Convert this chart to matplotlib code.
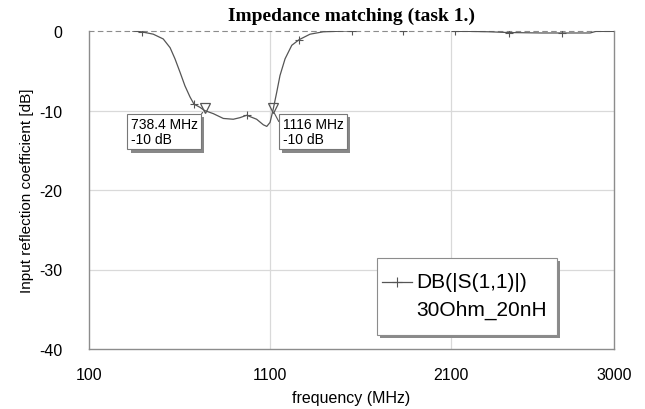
import numpy as np
import matplotlib
matplotlib.use("Agg")
import matplotlib.pyplot as plt
from matplotlib.patches import Rectangle
from matplotlib.lines import Line2D
import matplotlib.patheffects as pe

nan = np.nan
# Data (frequency in MHz, |S11| in dB); NaN = clipped at 0 dB
freq_mhz = [341, 391, 455, 510, 548, 575, 603, 630, 658, 680, 713, 738.4, 787, 842,
            897, 934, 971, 1026, 1063, 1082, 1100, 1116, 1137, 1155, 1183, 1220, 1260,
            1321, 1394, 1524, 1553, nan, 1835, nan, 2122, 2200, 2315, 2420, 2443, 2600,
            2713, 2868, 2900, 3000]
s11_db = [0.0, -0.1, -0.4, -1.0, -2.1, -3.5, -5.2, -6.9, -8.3, -9.2, -9.6, -10.0, -10.4,
          -11.0, -11.1, -10.9, -10.6, -11.1, -11.8, -12.0, -11.5, -10.0, -7.7, -5.6, -3.5,
          -1.8, -1.1, -0.4, -0.1, 0.0, 0.0, nan, 0.0, nan, -0.05, -0.05, -0.1, -0.2, -0.2,
          -0.25, -0.25, -0.25, -0.05, -0.05]
symbol_freqs = [391, 680, 971, 1260, 1553, 1835, 2122, 2420, 2713]

cursor_freqs = [738.4, 1116]
cursor_db = [-10, -10]

x_ticks = [100, 1100, 2100, 3000]
y_ticks = [0, -10, -20, -30, -40]

series_name = "DB(|S(1,1)|)"
series_sub = "30Ohm_20nH"
title = "Impedance matching (task 1.)"
xlabel = "frequency (MHz)"
ylabel = "Input reflection coefficient [dB]"

plt.rcParams['font.family'] = ['Liberation Sans', 'DejaVu Sans']

fig = plt.figure(figsize=(6.45, 4.10), dpi=100)
ax = fig.add_axes([89/645, 1-350/410, 525/645, 318/410])

ax.set_xlim(100, 3000)
ax.set_ylim(-40, 0)
ax.set_xticks(x_ticks)
ax.set_yticks(y_ticks)
ax.set_xticklabels([str(t) for t in x_ticks])
ax.set_yticklabels([str(t) for t in y_ticks])
ax.tick_params(length=0, labelsize=11.5)
ax.tick_params(axis='x', pad=13)
ax.tick_params(axis='y', pad=19)

for t in [1100, 2100]:
    ax.axvline(t, color='#d9d9d9', lw=0.9, zorder=0)
for t in [-10, -20, -30]:
    ax.axhline(t, color='#d9d9d9', lw=0.9, zorder=0)

for s in ['left', 'bottom', 'right']:
    ax.spines[s].set_color('#8c8c8c')
    ax.spines[s].set_linewidth(1.0)
ax.spines['top'].set_color('#8c8c8c')
ax.spines['top'].set_linestyle((0, (4, 4)))
ax.spines['top'].set_linewidth(0.8)

marks = [i for i, f in enumerate(freq_mhz) if f in symbol_freqs]
ax.plot(freq_mhz, s11_db, color='#555555', lw=0.9, marker='+', markersize=6,
        markeredgewidth=0.8, markevery=marks, zorder=3)

# cursor markers and labels
ax.plot(cursor_freqs, [d + 0.35 for d in cursor_db], linestyle='none', marker='v',
        markersize=6.5, markerfacecolor='none', markeredgecolor='#555555',
        markeredgewidth=0.9, zorder=4)
offsets = [(-53, -5), (7, -5)]
relpos = [(1, 1), (0, 0.6)]
for f, d, off, rp in zip(cursor_freqs, cursor_db, offsets, relpos):
    label = f"{f:g} MHz\n{d:g} dB"
    t = ax.annotate(label, xy=(f, d), xytext=off, textcoords='offset points',
                    ha='left', va='top', fontsize=10, color='black', linespacing=1.05,
                    bbox=dict(boxstyle='square,pad=0.25', fc='white', ec='#777777', lw=0.8),
                    arrowprops=dict(arrowstyle='-', color='#555555', lw=0.8,
                                    relpos=rp, shrinkA=0, shrinkB=2),
                    zorder=6)
    t.get_bbox_patch().set_path_effects([
        pe.SimplePatchShadow(offset=(2.2, -2.2), shadow_rgbFace='#888888', alpha=1.0),
        pe.Normal()])

# legend box with shadow
lx0, ly0 = (377-89)/525, (350-336)/318
lw_, lh_ = 180/525, 77/318
sx, sy = 3/525, 3/318
ax.add_patch(Rectangle((lx0 + sx, ly0 - sy), lw_, lh_, transform=ax.transAxes,
                       fc='#8a8a8a', ec='none', zorder=7))
ax.add_patch(Rectangle((lx0, ly0), lw_, lh_, transform=ax.transAxes,
                       fc='white', ec='#8c8c8c', lw=0.8, zorder=8))
y1 = (350-283)/318
y2 = (350-310)/318
ax.add_line(Line2D([(382-89)/525, (412-89)/525], [y1, y1], transform=ax.transAxes,
                   color='#555555', lw=0.9, zorder=9))
ax.add_line(Line2D([(397-89)/525], [y1], transform=ax.transAxes, marker='+',
                   markersize=7, markeredgewidth=0.8, color='#555555', zorder=9))
ax.text((416-89)/525, y1, series_name, transform=ax.transAxes, fontsize=15,
        va='center', ha='left', zorder=9)
ax.text((416-89)/525, y2, series_sub, transform=ax.transAxes, fontsize=15,
        va='center', ha='left', zorder=9)

ax.set_title(title, fontsize=14, fontweight='bold', family=['Liberation Serif'], pad=8)
ax.set_xlabel(xlabel, fontsize=11.5, labelpad=6)
ax.set_ylabel(ylabel, fontsize=11, labelpad=4)

fig.savefig("out.png", dpi=100)
